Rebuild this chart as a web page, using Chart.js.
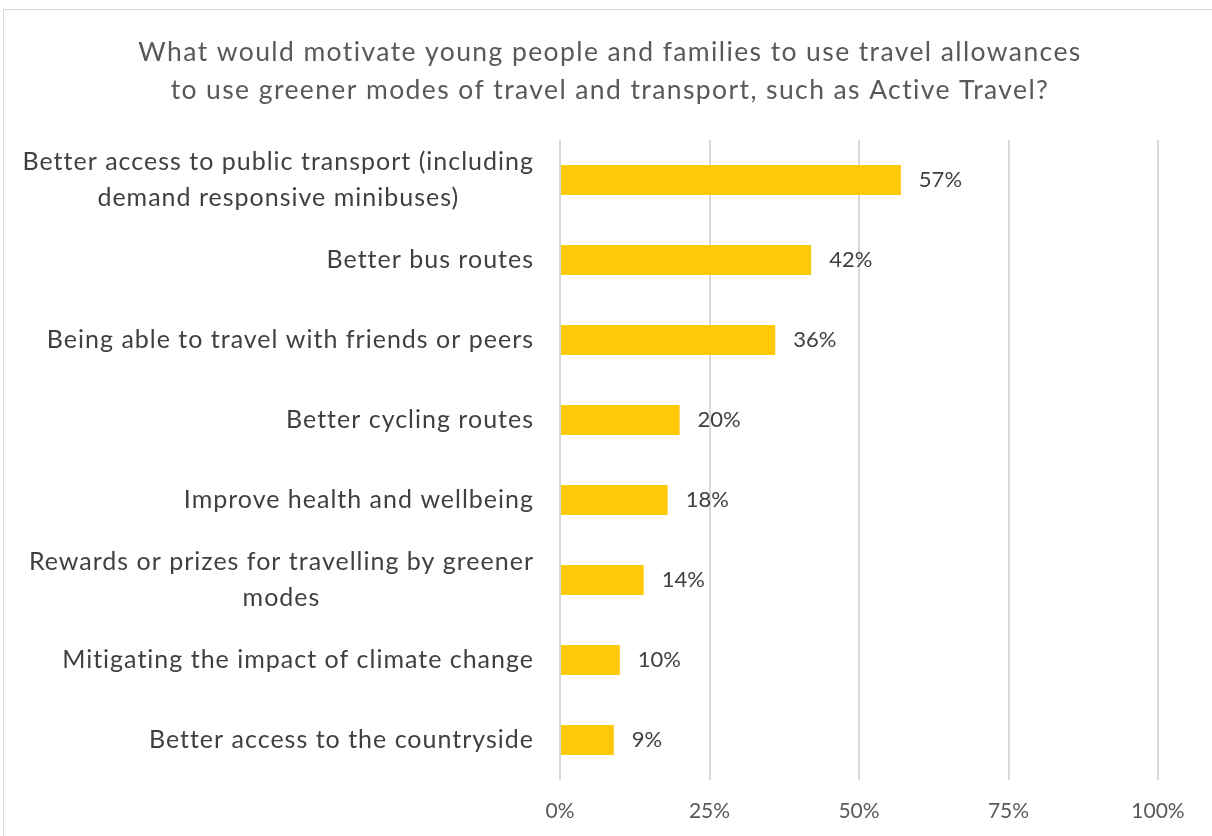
<!DOCTYPE html>
<html>
<head>
<meta charset="utf-8">
<script src="https://cdn.jsdelivr.net/npm/chart.js@4"></script>
<style>
  html, body { margin: 0; padding: 0; background: #ffffff; overflow: hidden; }
  #frame { position: absolute; left: 3px; top: 9px; width: 1240px; height: 860px; border: 1px solid #d9d9d9; box-sizing: border-box; }
  #wrap { position: absolute; left: 0; top: 0; width: 1212px; height: 836px; }
</style>
</head>
<body>
<div id="frame"></div>
<div id="wrap"><canvas id="chart"></canvas></div>
<script>
// Survey answers, top to bottom
const categories = [
  ['Better access to public transport (including', 'demand responsive minibuses)'],
  ['Better bus routes'],
  ['Being able to travel with friends or peers'],
  ['Better cycling routes'],
  ['Improve health and wellbeing'],
  ['Rewards or prizes for travelling by greener', 'modes'],
  ['Mitigating the impact of climate change'],
  ['Better access to the countryside']
];
// Share of respondents choosing each answer (%)
const shares = [57, 42, 36, 20, 18, 14, 10, 9];
// Horizontal axis ticks (%)
const tickValues = [0, 25, 50, 75, 100];
// Chart heading, one entry per line
const titleLines = [
  'What would motivate young people and families to use travel allowances',
  'to use greener modes of travel and transport, such as Active Travel?'
];

const FONT = 'Lato, "Open Sans", sans-serif';

// Two-line heading centred above the plot
const heading = {
  id: 'heading',
  afterDraw(chart) {
    const ctx = chart.ctx;
    ctx.save();
    ctx.font = '26.5px ' + FONT;
    ctx.letterSpacing = '1.4px';
    ctx.fillStyle = '#595959';
    ctx.textAlign = 'center';
    ctx.textBaseline = 'middle';
    titleLines.forEach((l, j) => ctx.fillText(l, 610, 52 + j * 38.5));
    ctx.restore();
  }
};

// Category names: each block right-aligned, its lines centred within the block
const categoryLabels = {
  id: 'categoryLabels',
  afterDraw(chart) {
    const ctx = chart.ctx;
    const yScale = chart.scales.y;
    const rightEdge = chart.chartArea.left - 26;
    const lineH = 36;
    ctx.save();
    ctx.font = '25px ' + FONT;
    ctx.letterSpacing = '1px';
    ctx.fillStyle = '#404040';
    ctx.textAlign = 'center';
    ctx.textBaseline = 'middle';
    categories.forEach((lines, i) => {
      const cy = yScale.getPixelForTick(i);
      const w = Math.max(...lines.map(l => ctx.measureText(l).width));
      const cx = rightEdge - w / 2;
      const top = cy - (lines.length - 1) * lineH / 2;
      lines.forEach((l, j) => ctx.fillText(l, cx, top + j * lineH));
    });
    ctx.restore();
  }
};

// Each bar's value written just past its end
const valueLabels = {
  id: 'valueLabels',
  afterDatasetsDraw(chart) {
    const ctx = chart.ctx;
    const meta = chart.getDatasetMeta(0);
    ctx.save();
    ctx.font = '22px ' + FONT;
    ctx.fillStyle = '#404040';
    ctx.textAlign = 'left';
    ctx.textBaseline = 'middle';
    meta.data.forEach((bar, i) => {
      ctx.fillText(shares[i] + '%', bar.x + 18, bar.y);
    });
    ctx.restore();
  }
};

new Chart(document.getElementById('chart'), {
  type: 'bar',
  data: {
    labels: categories,
    datasets: [{
      data: shares,
      backgroundColor: '#FFC907',
      borderWidth: 0,
      barPercentage: 0.375,
      categoryPercentage: 1.0
    }]
  },
  options: {
    indexAxis: 'y',
    responsive: true,
    maintainAspectRatio: false,
    devicePixelRatio: 1,
    animation: false,
    layout: { padding: { left: 0, right: 54, top: 140, bottom: 0 } },
    plugins: {
      legend: { display: false },
      tooltip: { enabled: false },
      title: { display: false }
    },
    scales: {
      x: {
        min: 0,
        max: 100,
        afterBuildTicks(scale) { scale.ticks = tickValues.map(v => ({ value: v })); },
        afterFit(scale) { scale.height = 56; },
        ticks: {
          callback: v => v + '%',
          color: '#595959',
          font: { family: FONT, size: 21 },
          padding: 19,
          maxRotation: 0
        },
        grid: { color: '#d9d9d9', lineWidth: 2, drawTicks: false },
        border: { display: false }
      },
      y: {
        afterFit(scale) { scale.width = 560; },
        ticks: { display: false },
        grid: { display: false },
        border: { display: false }
      }
    }
  },
  plugins: [heading, categoryLabels, valueLabels]
});
</script>
</body>
</html>
